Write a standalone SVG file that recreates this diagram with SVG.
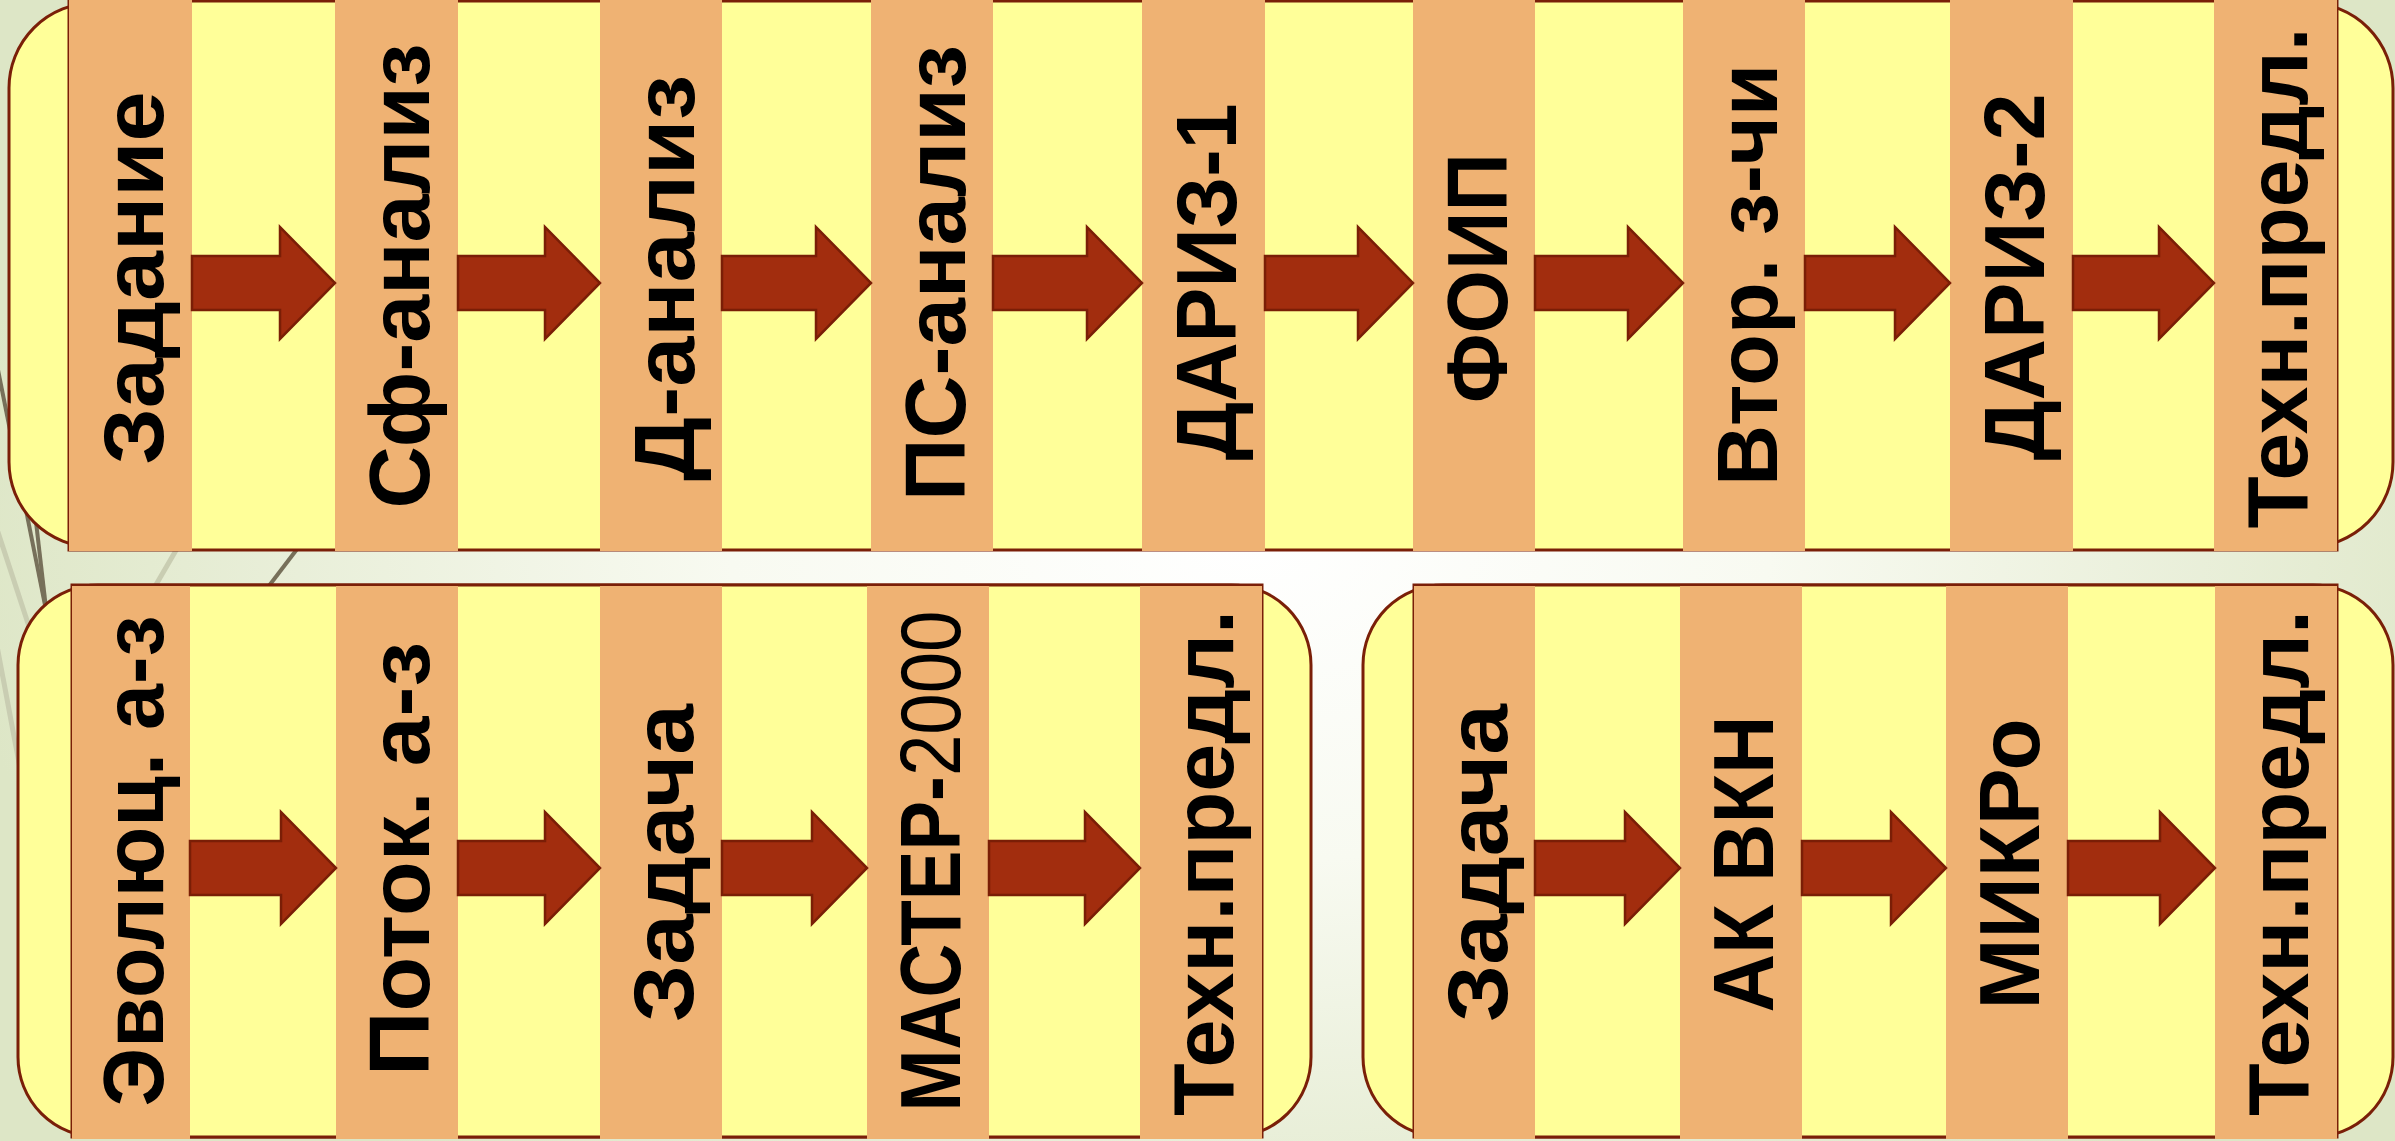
<svg xmlns="http://www.w3.org/2000/svg" width="2395" height="1141" viewBox="0 0 2395 1141">
<defs>
<radialGradient id="bg" gradientUnits="userSpaceOnUse" cx="1250" cy="540" r="1300" gradientTransform="translate(1250 540) scale(1 0.62) translate(-1250 -540)">
<stop offset="0" stop-color="#FFFFFF"/>
<stop offset="0.4" stop-color="#F8FAF1"/>
<stop offset="1" stop-color="#DDE6C6"/>
</radialGradient>
<style>
.box{fill:#FFFF99;stroke:#7A1F08;stroke-width:3}
.band{fill:#FFFF99;stroke:#7A1F08;stroke-width:3}
.col{fill:#EFB273}
.arr{fill:#A22D0E;stroke:#7A1E06;stroke-width:2.5;stroke-linejoin:miter}
.lbl{font-family:"Liberation Sans",Arial,sans-serif;font-weight:bold;font-size:86px;fill:#000;text-anchor:middle}
.reg{font-weight:normal}
.dk{stroke:#77705A;stroke-width:4;fill:none}
.lt{stroke:#C9CDB2;stroke-width:5;fill:none}
</style>
</defs>
<rect x="0" y="0" width="2395" height="1141" fill="url(#bg)"/>
<g id="background-lines">
<line class="dk" x1="-4" y1="360" x2="56" y2="660"/>
<line class="dk" x1="30" y1="470" x2="52" y2="660"/>
<line class="lt" x1="-6" y1="520" x2="40" y2="660"/>
<line class="lt" x1="-6" y1="630" x2="26" y2="800"/>
<line class="lt" x1="150" y1="595" x2="182" y2="540"/>
<line class="dk" x1="262" y1="595" x2="304" y2="540"/>
</g>
<g id="container-top">
<rect class="box" x="9" y="3" width="2384" height="544" rx="85" ry="85"/>
<rect class="band" x="69" y="1" width="2268" height="549"/>
</g>
<g id="container-bottom-left">
<rect class="box" x="18" y="585" width="1293" height="552" rx="80" ry="80"/>
<rect class="band" x="72" y="585" width="1190" height="552"/>
</g>
<g id="container-bottom-right">
<rect class="box" x="1363" y="585" width="1030" height="552" rx="80" ry="80"/>
<rect class="band" x="1414" y="585" width="923" height="552"/>
</g>
<g id="node-t1"><rect class="col" x="69" y="0" width="123" height="551"/><text class="lbl" transform="translate(163 278) rotate(-90)" textLength="373" lengthAdjust="spacingAndGlyphs">Задание</text></g>
<g id="node-t2"><rect class="col" x="335" y="0" width="123" height="551"/><text class="lbl" transform="translate(429 276) rotate(-90)" textLength="465" lengthAdjust="spacingAndGlyphs">Сф-анализ</text></g>
<g id="node-t3"><rect class="col" x="600" y="0" width="122" height="551"/><text class="lbl" transform="translate(694 278) rotate(-90)" textLength="406" lengthAdjust="spacingAndGlyphs">Д-анализ</text></g>
<g id="node-t4"><rect class="col" x="871" y="0" width="122" height="551"/><text class="lbl" transform="translate(965 273) rotate(-90)" textLength="456" lengthAdjust="spacingAndGlyphs">ПС-анализ</text></g>
<g id="node-t5"><rect class="col" x="1142" y="0" width="123" height="551"/><text class="lbl" transform="translate(1236 282) rotate(-90)" textLength="357" lengthAdjust="spacingAndGlyphs">ДАРИЗ-1</text></g>
<g id="node-t6"><rect class="col" x="1413" y="0" width="122" height="551"/><text class="lbl" transform="translate(1507 278) rotate(-90)" textLength="250" lengthAdjust="spacingAndGlyphs">ФОИП</text></g>
<g id="node-t7"><rect class="col" x="1683" y="0" width="122" height="551"/><text class="lbl" transform="translate(1777 275) rotate(-90)" textLength="422" lengthAdjust="spacingAndGlyphs">Втор. з-чи</text></g>
<g id="node-t8"><rect class="col" x="1950" y="0" width="123" height="551"/><text class="lbl" transform="translate(2044 277) rotate(-90)" textLength="367" lengthAdjust="spacingAndGlyphs">ДАРИЗ-2</text></g>
<g id="node-t9"><rect class="col" x="2214" y="0" width="123" height="551"/><text class="lbl" transform="translate(2307 278) rotate(-90)" textLength="501" lengthAdjust="spacingAndGlyphs">Техн.предл.</text></g>
<g id="node-b1"><rect class="col" x="72" y="586" width="118" height="553"/><text class="lbl" transform="translate(163 861) rotate(-90)" textLength="491" lengthAdjust="spacingAndGlyphs">Эволюц. а-з</text></g>
<g id="node-b2"><rect class="col" x="336" y="586" width="122" height="553"/><text class="lbl" transform="translate(429 859) rotate(-90)" textLength="434" lengthAdjust="spacingAndGlyphs">Поток. а-з</text></g>
<g id="node-b3"><rect class="col" x="600" y="586" width="122" height="553"/><text class="lbl" transform="translate(693 863) rotate(-90)" textLength="318" lengthAdjust="spacingAndGlyphs">Задача</text></g>
<g id="node-b4"><rect class="col" x="867" y="586" width="122" height="553"/><text class="lbl" transform="translate(960 861) rotate(-90)" textLength="501" lengthAdjust="spacingAndGlyphs">МАСТЕР-<tspan class="reg">2000</tspan></text></g>
<g id="node-b5"><rect class="col" x="1140" y="586" width="122" height="553"/><text class="lbl" transform="translate(1233 863) rotate(-90)" textLength="506" lengthAdjust="spacingAndGlyphs">Техн.предл.</text></g>
<g id="node-b6"><rect class="col" x="1414" y="586" width="121" height="553"/><text class="lbl" transform="translate(1507 863) rotate(-90)" textLength="318" lengthAdjust="spacingAndGlyphs">Задача</text></g>
<g id="node-b7"><rect class="col" x="1680" y="586" width="122" height="553"/><text class="lbl" transform="translate(1773 864) rotate(-90)" textLength="297" lengthAdjust="spacingAndGlyphs">АК ВКН</text></g>
<g id="node-b8"><rect class="col" x="1946" y="586" width="122" height="553"/><text class="lbl" transform="translate(2039 864) rotate(-90)" textLength="291" lengthAdjust="spacingAndGlyphs">МИКРо</text></g>
<g id="node-b9"><rect class="col" x="2215" y="586" width="122" height="553"/><text class="lbl" transform="translate(2308 863) rotate(-90)" textLength="506" lengthAdjust="spacingAndGlyphs">Техн.предл.</text></g>
<g id="connectors">
<polygon class="arr" points="192,256 280,256 280,227 335,283 280,339 280,310 192,310"/>
<polygon class="arr" points="458,256 545,256 545,227 600,283 545,339 545,310 458,310"/>
<polygon class="arr" points="722,256 816,256 816,227 871,283 816,339 816,310 722,310"/>
<polygon class="arr" points="993,256 1087,256 1087,227 1142,283 1087,339 1087,310 993,310"/>
<polygon class="arr" points="1265,256 1358,256 1358,227 1413,283 1358,339 1358,310 1265,310"/>
<polygon class="arr" points="1535,256 1628,256 1628,227 1683,283 1628,339 1628,310 1535,310"/>
<polygon class="arr" points="1805,256 1895,256 1895,227 1950,283 1895,339 1895,310 1805,310"/>
<polygon class="arr" points="2073,256 2159,256 2159,227 2214,283 2159,339 2159,310 2073,310"/>
<polygon class="arr" points="190,841 281,841 281,812 336,868 281,924 281,895 190,895"/>
<polygon class="arr" points="458,841 545,841 545,812 600,868 545,924 545,895 458,895"/>
<polygon class="arr" points="722,841 812,841 812,812 867,868 812,924 812,895 722,895"/>
<polygon class="arr" points="989,841 1085,841 1085,812 1140,868 1085,924 1085,895 989,895"/>
<polygon class="arr" points="1535,841 1625,841 1625,812 1680,868 1625,924 1625,895 1535,895"/>
<polygon class="arr" points="1802,841 1891,841 1891,812 1946,868 1891,924 1891,895 1802,895"/>
<polygon class="arr" points="2068,841 2160,841 2160,812 2215,868 2160,924 2160,895 2068,895"/>
</g>
</svg>
